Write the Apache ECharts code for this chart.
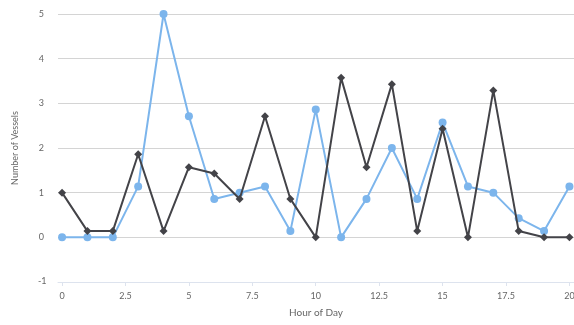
<!DOCTYPE html>
<html><head><meta charset="utf-8">
<script src="https://cdn.jsdelivr.net/npm/echarts@6/dist/echarts.min.js"></script>
<style>html,body{margin:0;padding:0;background:#fff}#c{width:574px;height:325px}</style>
</head><body><div id="c"></div>
<script>
const hours = [0,1,2,3,4,5,6,7,8,9,10,11,12,13,14,15,16,17,18,19,20];
const seriesBlue = [0,0,0,1.14,5,2.71,0.86,1,1.14,0.14,2.86,0,0.86,2,0.86,2.57,1.14,1,0.43,0.14,1.14];
const seriesBlack = [1,0.14,0.14,1.86,0.14,1.57,1.43,0.86,2.71,0.86,0,3.57,1.57,3.43,0.14,2.43,0,3.29,0.14,0,0];
const xTicks = [0,2.5,5,7.5,10,12.5,15,17.5,20];

const chart = echarts.init(document.getElementById('c'));
const font = 'Lato, "Open Sans", sans-serif';
chart.setOption({
  animation:false,
  grid:{left:58,right:0,top:14,bottom:43,outerBoundsMode:'none',containLabel:false},
  xAxis:{
    type:'value', min:-0.16, max:20.18,
    name:'Hour of Day', nameLocation:'middle', nameGap:26,
    nameTextStyle:{color:'#666',fontSize:10,fontFamily:font},
    axisLine:{show:true,onZero:false,lineStyle:{color:'#dde3ee'}},
    axisTick:{show:true,customValues:xTicks,length:4,lineStyle:{color:'#dde3ee'}},
    axisLabel:{customValues:xTicks,color:'#666',fontSize:9,fontFamily:font,margin:10,formatter:v=>String(v)},
    splitLine:{show:false}
  },
  yAxis:{
    type:'value', min:-1, max:5, interval:1,
    name:'Number of Vessels', nameLocation:'middle', nameGap:38, nameRotate:90,
    nameTextStyle:{color:'#666',fontSize:9,fontFamily:font},
    axisLine:{show:false}, axisTick:{show:false},
    axisLabel:{color:'#666',fontSize:9,fontFamily:font,margin:14,formatter:v=>v===-1?'':String(v)},
    splitLine:{show:true,lineStyle:{color:'#d4d4d4',width:1}}
  },
  series:[
    {type:'line',data:hours.map((h,i)=>[h,seriesBlue[i]]),color:'#7cb5ec',
     lineStyle:{width:2},symbol:'circle',symbolSize:8,itemStyle:{color:'#7cb5ec'},z:2},
    {type:'line',data:hours.map((h,i)=>[h,seriesBlack[i]]),color:'#434348',
     lineStyle:{width:2},symbol:'diamond',symbolSize:8,itemStyle:{color:'#434348'},z:3}
  ],
  graphic:[{type:'text',left:38,top:277,style:{text:'-1',fill:'#666',font:'9px '+font}}]
});
</script></body></html>
